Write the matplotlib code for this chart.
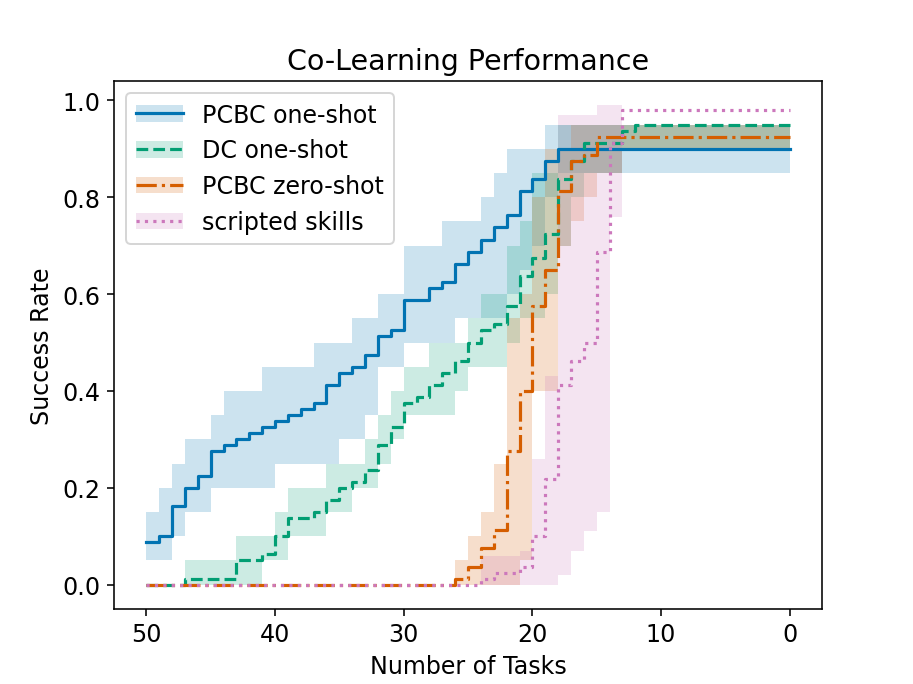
import numpy as np
import matplotlib.pyplot as plt

plt.rcParams['font.size'] = 12

# number of tasks, from 50 down to 0
tasks = np.arange(50, -1, -1)

# PCBC one-shot
pcbc_one = [0.0875, 0.1, 0.1625, 0.2, 0.225, 0.275, 0.2875, 0.3, 0.3125, 0.325,
            0.3375, 0.35, 0.3625, 0.375, 0.4125, 0.4375, 0.45, 0.475, 0.5125, 0.525,
            0.5875, 0.5875, 0.6125, 0.625, 0.6625, 0.6875, 0.7125, 0.7375, 0.7625, 0.8125,
            0.8375, 0.875] + [0.9] * 19
pcbc_one_lo = [0.05, 0.05, 0.1, 0.15, 0.15, 0.2, 0.2, 0.2, 0.2, 0.2,
               0.25, 0.25, 0.25, 0.25, 0.25, 0.3, 0.3, 0.35, 0.45, 0.45,
               0.5, 0.5, 0.5, 0.5, 0.55, 0.55, 0.55, 0.55, 0.6, 0.65,
               0.7, 0.8] + [0.85] * 19
pcbc_one_hi = [0.15, 0.2, 0.25, 0.3, 0.3, 0.35, 0.4, 0.4, 0.4, 0.45,
               0.45, 0.45, 0.45, 0.5, 0.5, 0.5, 0.55, 0.55, 0.6, 0.6,
               0.7, 0.7, 0.7, 0.75, 0.75, 0.75, 0.8, 0.85, 0.9, 0.9,
               0.9] + [0.95] * 20

# DC one-shot
dc_one = [0, 0, 0, 0.0125, 0.0125, 0.0125, 0.0125, 0.05, 0.05, 0.0625,
          0.1, 0.1375, 0.1375, 0.15, 0.175, 0.2, 0.2125, 0.2375, 0.2875, 0.325,
          0.375, 0.3875, 0.4125, 0.4375, 0.4625, 0.5, 0.525, 0.5375, 0.575, 0.6375,
          0.675, 0.725, 0.8375, 0.875, 0.9125, 0.9125, 0.9125, 0.9375] + [0.95] * 13
dc_one_lo = [0, 0, 0, 0, 0, 0, 0, 0, 0, 0.05,
             0.05, 0.1, 0.1, 0.1, 0.15, 0.15, 0.2, 0.2, 0.25, 0.3,
             0.35, 0.35, 0.35, 0.35, 0.4, 0.45, 0.45, 0.45, 0.5, 0.55,
             0.55, 0.6, 0.7, 0.8, 0.85, 0.85, 0.85, 0.9] + [0.9] * 13
dc_one_hi = [0, 0, 0, 0.05, 0.05, 0.05, 0.05, 0.1, 0.1, 0.1,
             0.15, 0.2, 0.2, 0.2, 0.25, 0.25, 0.25, 0.3, 0.35, 0.4,
             0.45, 0.45, 0.5, 0.5, 0.5, 0.55, 0.6, 0.6, 0.7, 0.75,
             0.85, 0.85] + [0.95] * 19

# PCBC zero-shot
pcbc_zero = [0] * 24 + [0.0125, 0.0375, 0.075, 0.1125, 0.275, 0.4, 0.575, 0.65,
                        0.8125, 0.875, 0.8875] + [0.925] * 16
pcbc_zero_lo = [0] * 24 + [0, 0, 0, 0, 0, 0.05, 0.4, 0.4,
                           0.7, 0.75, 0.8, 0.85, 0.85] + [0.9] * 14
pcbc_zero_hi = [0] * 24 + [0.05, 0.1, 0.15, 0.25, 0.55, 0.6, 0.8, 0.9,
                           0.9, 0.95, 0.95] + [0.95] * 16

# scripted skills
scripted = [0] * 26 + [0.0125, 0.025, 0.025, 0.0375, 0.1, 0.2175, 0.4125, 0.4625,
                       0.5, 0.6875, 0.9125] + [0.98] * 14
scripted_lo = [0] * 26 + [0, 0, 0, 0, 0, 0, 0.02, 0.07,
                          0.11, 0.15, 0.76] + [0.98] * 14
scripted_hi = [0] * 26 + [0.06, 0.06, 0.06, 0.07, 0.26, 0.43, 0.97, 0.97,
                          0.97, 0.99, 0.99] + [0.98] * 14

series = [
    ('PCBC one-shot', pcbc_one, pcbc_one_lo, pcbc_one_hi, '#0173b2', '-'),
    ('DC one-shot', dc_one, dc_one_lo, dc_one_hi, '#029e73', '--'),
    ('PCBC zero-shot', pcbc_zero, pcbc_zero_lo, pcbc_zero_hi, '#d55e00', '-.'),
    ('scripted skills', scripted, scripted_lo, scripted_hi, '#cc78bc', ':'),
]

fig, ax = plt.subplots(figsize=(6.4, 4.8), dpi=142.7)

handles = []
labels = []
for name, mean, lo, hi, color, ls in series:
    band = ax.fill_between(tasks, lo, hi, step='post', color=color, alpha=0.2, linewidth=0)
    line, = ax.step(tasks, mean, where='post', color=color, linestyle=ls, linewidth=1.6)
    handles.append((band, line))
    labels.append(name)

ax.invert_xaxis()
ax.set_title('Co-Learning Performance')
ax.set_xlabel('Number of Tasks')
ax.set_ylabel('Success Rate')
ax.legend(handles, labels, loc='upper left')

plt.savefig('out.png')
